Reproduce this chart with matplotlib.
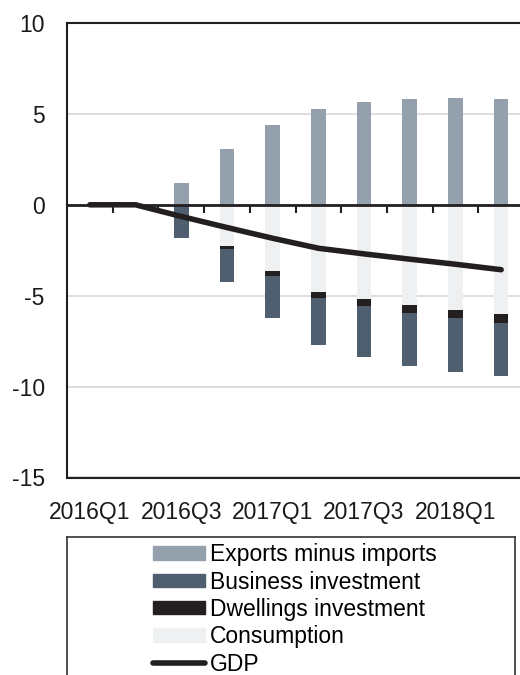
import numpy as np
import matplotlib
matplotlib.use("Agg")
import matplotlib.pyplot as plt
from matplotlib.patches import Patch
from matplotlib.lines import Line2D

plt.rcParams['font.family'] = ['Liberation Sans', 'DejaVu Sans']

quarters = ['2016Q1', '2016Q2', '2016Q3', '2016Q4', '2017Q1', '2017Q2',
            '2017Q3', '2017Q4', '2018Q1', '2018Q2']
exports = [0, 0, 1.21, 3.07, 4.37, 5.27, 5.63, 5.81, 5.86, 5.83]
consumption = [0, 0, 0, -2.26, -3.62, -4.78, -5.18, -5.49, -5.77, -5.99]
dwellings = [0, 0, 0, -0.18, -0.28, -0.37, -0.39, -0.48, -0.48, -0.51]
business = [0, 0, -1.82, -1.82, -2.30, -2.56, -2.79, -2.87, -2.94, -2.93]
gdp = [0, 0, -0.64, -1.25, -1.84, -2.39, -2.70, -2.99, -3.27, -3.57]
yticks = [10, 5, 0, -5, -10, -15]

c_exp = '#94a0ab'
c_bus = '#4f5f6f'
c_dwl = '#231f20'
c_con = '#eff0f2'
c_ink = '#231f20'
fs = 16.5

fig = plt.figure(figsize=(5.2, 6.75), dpi=100)
ax = fig.add_axes([67/520, 1-477.5/675, 457/520, 454.5/675])

x = np.arange(len(quarters))
w = 0.32
cons = np.array(consumption)
dwl = np.array(dwellings)
bus = np.array(business)

ax.bar(x, exports, w, color=c_exp, zorder=2)
ax.bar(x, cons, w, color=c_con, zorder=2)
ax.bar(x, dwl, w, bottom=cons, color=c_dwl, zorder=2)
ax.bar(x, bus, w, bottom=cons + dwl, color=c_bus, zorder=2)
ax.plot(x, gdp, color=c_ink, lw=4, solid_capstyle='round', zorder=4)

# zero line with category boundary ticks hanging below it
ax.axhline(0, color=c_ink, lw=2, zorder=3)
ax.vlines(x[:-1] + 0.5, -0.45, 0, color=c_ink, lw=1.5, zorder=3)

ax.set_xlim(-0.5, len(quarters) - 0.5)
ax.set_ylim(-15, 10)
ax.set_yticks(yticks)
ax.set_yticklabels([str(t) for t in yticks])
ax.set_xticks(x[::2])
ax.set_xticklabels(quarters[::2])
ax.tick_params(axis='y', length=0, pad=16, labelsize=fs, colors='#1a1a1a')
ax.tick_params(axis='x', length=0, pad=17, labelsize=fs, colors='#1a1a1a')
ax.grid(axis='y', color='#d8d8d8', lw=1.2, zorder=0)
ax.set_axisbelow(True)
for s in ['left', 'top', 'bottom']:
    ax.spines[s].set_color(c_ink)
    ax.spines[s].set_linewidth(1.5)
ax.spines['right'].set_visible(False)

# legend in its own box under the chart
lax = fig.add_axes([67/520, -25/675, 448/520, 163/675])
lax.set_xticks([])
lax.set_yticks([])
for s in lax.spines.values():
    s.set_color('#333333')
    s.set_linewidth(1.2)
handles = [Patch(color=c_exp), Patch(color=c_bus), Patch(color=c_dwl),
           Patch(color=c_con),
           Line2D([], [], color=c_ink, lw=4, solid_capstyle='round')]
labels = ['Exports minus imports', 'Business investment',
          'Dwellings investment', 'Consumption', 'GDP']
lax.legend(handles, labels, loc='upper left', bbox_to_anchor=(0.192, 0.962),
           frameon=False, fontsize=fs, handlelength=2.27, handleheight=0.52,
           handletextpad=0.22, labelspacing=0.19, borderpad=0, borderaxespad=0)

fig.savefig('out.png', dpi=100)
